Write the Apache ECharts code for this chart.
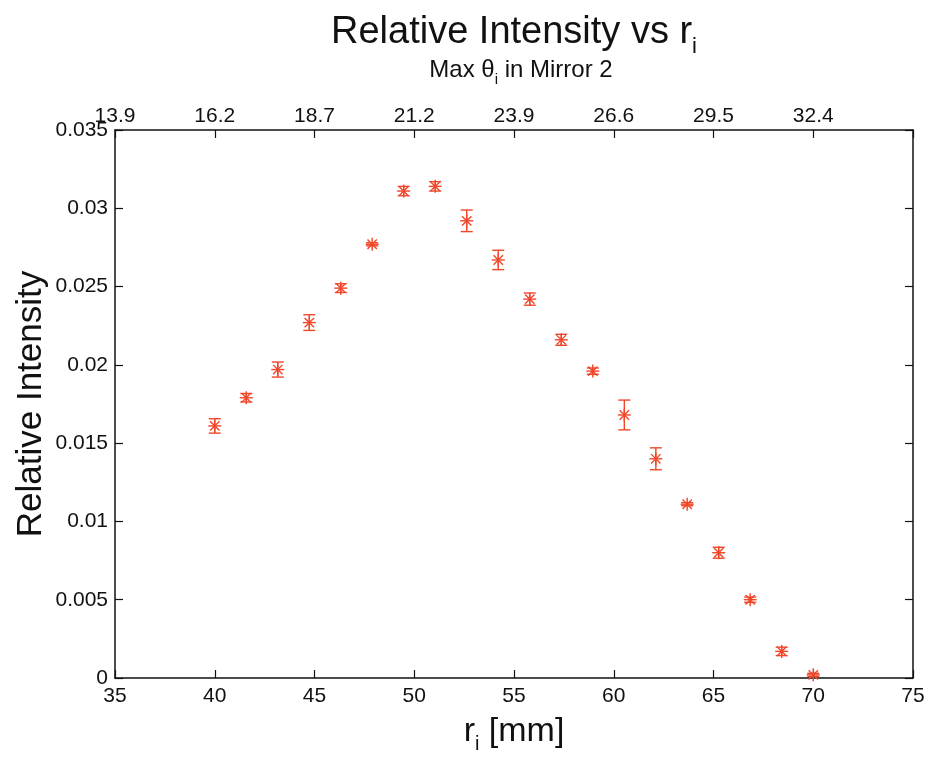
<!DOCTYPE html>
<html>
<head>
<meta charset="utf-8">
<script src="https://cdn.jsdelivr.net/npm/echarts@6/dist/echarts.min.js"></script>
<style>html,body{margin:0;padding:0;background:#fff;}#c{width:935px;height:759px;}</style>
</head>
<body>
<div id="c"></div>
<script>
// ---- data ----
const rValues = [40, 41.58, 43.16, 44.74, 46.32, 47.89, 49.47, 51.05, 52.63, 54.21, 55.79, 57.37, 58.95, 60.53, 62.11, 63.68, 65.26, 66.84, 68.42, 70];
const intensity = [0.0161, 0.0179, 0.0197, 0.0227, 0.0249, 0.0277, 0.0311, 0.0314, 0.0292, 0.0267, 0.0242, 0.0216, 0.0196, 0.0168, 0.0140, 0.0111, 0.0080, 0.0050, 0.0017, 0.0002];
const errors = [0.00046, 0.00027, 0.00048, 0.0005, 0.00028, 0.0001, 0.0003, 0.0003, 0.00069, 0.00062, 0.00039, 0.00035, 0.0002, 0.00095, 0.0007, 0.0001, 0.00035, 0.00017, 0.00027, 0.0001];
const bottomTickValues = [35, 40, 45, 50, 55, 60, 65, 70, 75];
const topTickLabels = ['13.9', '16.2', '18.7', '21.2', '23.9', '26.6', '29.5', '32.4', ''];

const FONT = "'Liberation Sans', Arial, Helvetica, sans-serif";
const RED = '#f0462a';
const INK = '#111';

const seriesData = rValues.map((r, i) => [r, intensity[i], errors[i]]);

const chart = echarts.init(document.getElementById('c'), null, {renderer: 'canvas'});

const axisCommon = {
  type: 'value', min: 35, max: 75, interval: 5,
  axisLine: {show: true, onZero: false, lineStyle: {color: INK, width: 1.5}},
  axisTick: {show: true, inside: true, length: 8, lineStyle: {color: INK, width: 1.2}},
  splitLine: {show: false}
};

chart.setOption({
  animation: false,
  backgroundColor: '#fff',
  title: [
    {
      text: '{a|Relative Intensity vs r}{s|i}',
      left: 509, top: 3, textAlign: 'center',
      textStyle: {
        rich: {
          a: {fontFamily: FONT, fontSize: 38, fontWeight: 'normal', color: INK, lineHeight: 50, verticalAlign: 'middle'},
          s: {fontFamily: FONT, fontSize: 22, fontWeight: 'normal', color: INK, lineHeight: 18, verticalAlign: 'bottom'}
        }
      }
    },
    {
      text: '{a|Max θ}{s|i}{a| in Mirror 2}',
      left: 516, top: 48, textAlign: 'center',
      textStyle: {
        rich: {
          a: {fontFamily: FONT, fontSize: 24, fontWeight: 'normal', color: INK, lineHeight: 34, verticalAlign: 'middle'},
          s: {fontFamily: FONT, fontSize: 15, fontWeight: 'normal', color: INK, lineHeight: 14, verticalAlign: 'bottom'}
        }
      }
    }
  ],
  grid: {left: 115, right: 22, top: 130, bottom: 81, containLabel: false},
  xAxis: [
    Object.assign({}, axisCommon, {
      position: 'bottom',
      name: '{a|r}{s|i}{a| [mm]}',
      nameLocation: 'middle', nameGap: 32,
      nameTextStyle: {
        rich: {
          a: {fontFamily: FONT, fontSize: 34, color: INK, lineHeight: 44, verticalAlign: 'middle'},
          s: {fontFamily: FONT, fontSize: 20, color: INK, lineHeight: 16, verticalAlign: 'bottom'}
        }
      },
      axisLabel: {
        margin: 8, fontFamily: FONT, fontSize: 21, color: INK,
        formatter: v => bottomTickValues.indexOf(v) >= 0 ? String(v) : ''
      }
    }),
    Object.assign({}, axisCommon, {
      position: 'top',
      axisLabel: {
        margin: 3, fontFamily: FONT, fontSize: 21, color: INK,
        formatter: v => {
          const idx = bottomTickValues.indexOf(v);
          return idx >= 0 ? topTickLabels[idx] : '';
        }
      }
    })
  ],
  yAxis: [
    {
      type: 'value', min: 0, max: 0.035, interval: 0.005, position: 'left',
      name: 'Relative Intensity', nameLocation: 'middle', nameGap: 66,
      nameMoveOverlap: false,
      nameTextStyle: {fontFamily: FONT, fontSize: 35, color: INK},
      axisLine: {show: true, onZero: false, lineStyle: {color: INK, width: 1.5}},
      axisTick: {show: true, inside: true, length: 8, lineStyle: {color: INK, width: 1.2}},
      axisLabel: {margin: 7, fontFamily: FONT, fontSize: 21, color: INK},
      splitLine: {show: false}
    },
    {
      type: 'value', min: 0, max: 0.035, interval: 0.005, position: 'right',
      axisLine: {show: true, onZero: false, lineStyle: {color: INK, width: 1.5}},
      axisTick: {show: true, inside: true, length: 8, lineStyle: {color: INK, width: 1.2}},
      axisLabel: {show: false},
      splitLine: {show: false}
    }
  ],
  series: [
    {
      type: 'custom',
      xAxisIndex: 0, yAxisIndex: 0,
      data: seriesData,
      encode: {x: 0, y: 1},
      clip: false,
      renderItem: function (params, api) {
        const x = api.value(0), y = api.value(1), e = api.value(2);
        const c = api.coord([x, y]);
        const t = api.coord([x, y + e]);
        const b = api.coord([x, y - e]);
        const cap = 6, r = 6.5, d = r * 0.72;
        const st = {stroke: RED, lineWidth: 1.4, fill: null};
        const lines = [
          [t[0], t[1], b[0], b[1]],
          [t[0] - cap, t[1], t[0] + cap, t[1]],
          [b[0] - cap, b[1], b[0] + cap, b[1]],
          [c[0] - r, c[1], c[0] + r, c[1]],
          [c[0], c[1] - r, c[0], c[1] + r],
          [c[0] - d, c[1] - d, c[0] + d, c[1] + d],
          [c[0] - d, c[1] + d, c[0] + d, c[1] - d]
        ];
        return {
          type: 'group',
          children: lines.map(l => ({
            type: 'line',
            shape: {x1: l[0], y1: l[1], x2: l[2], y2: l[3]},
            style: st
          }))
        };
      }
    }
  ]
});
</script>
</body>
</html>
